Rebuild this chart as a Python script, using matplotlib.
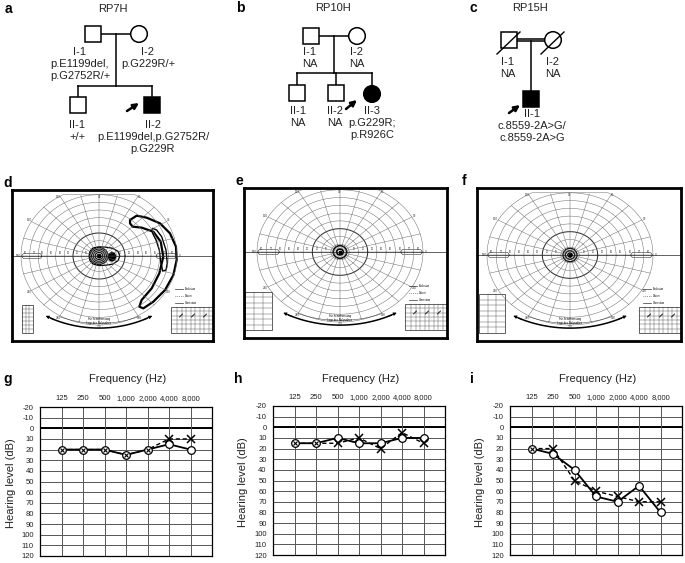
import numpy as np
import matplotlib
matplotlib.use("Agg")
import matplotlib.pyplot as plt
from matplotlib.patches import Rectangle, Circle, Ellipse, FancyBboxPatch, Polygon

plt.rcParams['font.family'] = ['Liberation Sans', 'DejaVu Sans']
plt.rcParams['axes.unicode_minus'] = False

W, H = 685, 563
fig = plt.figure(figsize=(W / 100, H / 100), dpi=100)
fig.patch.set_facecolor('white')

# ---------------- data ----------------
# pedigree RP7H
a_ids = ["I-1", "I-2", "II-1", "II-2"]
a_sex = ["m", "f", "m", "m"]
a_affected = [False, False, False, True]
a_geno = [["p.E1199del,", "p.G2752R/+"], ["p.G229R/+"], ["+/+"],
          ["p.E1199del,p.G2752R/", "p.G229R"]]
# pedigree RP10H
b_ids = ["I-1", "I-2", "II-1", "II-2", "II-3"]
b_sex = ["m", "f", "m", "m", "f"]
b_affected = [False, False, False, False, True]
b_geno = [["NA"], ["NA"], ["NA"], ["NA"], ["p.G229R;", "p.R926C"]]
# pedigree RP15H
c_ids = ["I-1", "I-2", "II-1"]
c_sex = ["m", "f", "m"]
c_affected = [False, False, True]
c_deceased = [True, True, False]
c_geno = [["NA"], ["NA"], ["c.8559-2A>G/", "c.8559-2A>G"]]

# goldmann isopters (degrees)
d_rings = [2.2, 4.4, 6.6, 8.6, 10.5]
d_blob = (15.0, -1.0, 4.0, 5.4)
d_outer_x = [-11.5, -10.5, -7, 0, 8, 16, 22, 24, 22, 16, 8, 0, -7, -10.5]
d_outer_y = [0, 6, 10.5, 12, 11.5, 10, 6, 0, -6, -10.5, -12, -12.5, -10.5, -6]
d_cres_x = [35.8, 43.5, 55, 70.4, 81.9, 88.8, 89.6, 85.8, 76.2, 62.7, 51.2, 46.5,
            49.2, 60.8, 69.6, 74.2, 71.2, 62.7, 49.2, 38.8, 35.8]
d_cres_y = [47, 52.6, 50, 42.6, 29.6, 12.2, -5.2, -24.8, -44.3, -59.6, -68.3, -66.1,
            -57.4, -42.2, -22.6, -0.9, 18.7, 31.7, 37, 38.3, 42.6]
d_inner_x = [61.9, 66.5, 72.3, 77.3, 78.8, 77.3, 73.5, 71.2, 69.6, 65.8, 61.9, 60.8]
d_inner_y = [36.1, 33.9, 25.2, 7.8, -9.6, -18.3, -19.6, -7.4, 7.8, 20.9, 29.6, 33.9]
e_rings = [(3.6, 3.8), (7.3, 8.1)]
f_rings = [(2.4, 2.6), (5.0, 5.4), (7.6, 8.6)]

# audiograms
freq_labels = ["125", "250", "500", "1,000", "2,000", "4,000", "8,000"]
g_right = [20, 20, 20, 25, 20, 15, 20]
g_left = [20, 20, 20, 25, 20, 10, 10]
h_right = [15, 15, 10, 15, 15, 10, 10]
h_left = [15, 15, 15, 10, 20, 5, 15]
i_right = [20, 25, 40, 65, 70, 55, 80]
i_left = [20, 20, 50, 60, 65, 70, 70]


def px_axes(x0, y0, x1, y1):
    return fig.add_axes([x0 / W, 1 - y1 / H, (x1 - x0) / W, (y1 - y0) / H])


def ftext(x, y, s, **kw):
    fig.text(x / W, 1 - y / H, s, **kw)


# ---------------- pedigrees ----------------
base = fig.add_axes([0, 0, 1, 1])
base.set_xlim(0, W)
base.set_ylim(H, 0)
base.axis('off')
TXT = '#222222'


def person(x, y, sex, affected, deceased=False):
    fc = 'black' if affected else 'white'
    if sex == 'm':
        base.add_patch(Rectangle((x - 8, y - 8), 16, 16, fc=fc, ec='black', lw=1.1, zorder=3))
    else:
        base.add_patch(Circle((x, y), 8.3, fc=fc, ec='black', lw=1.1, zorder=3))
    if deceased:
        base.plot([x - 12, x + 11], [y + 14, y - 8], color='black', lw=1.0, zorder=4)


def line(pts):
    xs, ys = zip(*pts)
    base.plot(xs, ys, color='black', lw=1.1, zorder=2)


def label(x, y, ident, geno):
    for k, s in enumerate([ident] + geno):
        base.text(x, y + k * 12, s, ha='center', va='center', fontsize=8, color=TXT)


def proband(tail, tip):
    base.annotate('', xy=tip, xytext=tail,
                  arrowprops=dict(arrowstyle='-|>', color='black', lw=1.8,
                                  mutation_scale=8, shrinkA=0, shrinkB=0))


# RP7H
a_pos = [(93, 34), (139, 34), (78, 105), (152, 105)]
a_txt = [(80, 52), (148, 52), (77, 125), (153, 125)]
line([(101, 34), (131, 34)])
line([(116, 34), (116, 86)])
line([(78, 86), (152, 86)])
line([(78, 86), (78, 97)])
line([(152, 86), (152, 97)])
for k in range(len(a_ids)):
    person(*a_pos[k], a_sex[k], a_affected[k])
    label(*a_txt[k], a_ids[k], a_geno[k])
proband((127, 111), (139, 103))

# RP10H
b_pos = [(311, 36), (357, 36), (297, 93), (336, 93), (372, 94)]
b_txt = [(310, 52), (357, 52), (298, 111), (335, 111), (372, 111)]
line([(319, 36), (349, 36)])
line([(334, 36), (334, 73)])
line([(297, 73), (372, 73)])
line([(297, 73), (297, 85)])
line([(336, 73), (336, 85)])
line([(372, 73), (372, 86)])
for k in range(len(b_ids)):
    person(*b_pos[k], b_sex[k], b_affected[k])
    label(*b_txt[k], b_ids[k], b_geno[k])
proband((346, 109), (357, 100))

# RP15H
c_pos = [(509, 40), (553, 40), (531, 99)]
c_txt = [(508, 62), (553, 62), (532, 114)]
line([(517, 38.6), (545, 38.6)])
line([(517, 41.4), (545, 41.4)])
line([(531, 41.4), (531, 91)])
for k in range(len(c_ids)):
    person(*c_pos[k], c_sex[k], c_affected[k], c_deceased[k])
    label(*c_txt[k], c_ids[k], c_geno[k])
proband((509, 113), (520, 105))

ftext(113, 9, "RP7H", ha='center', va='center', fontsize=8, color=TXT)
ftext(333, 8, "RP10H", ha='center', va='center', fontsize=8, color=TXT)
ftext(530, 8, "RP15H", ha='center', va='center', fontsize=8, color=TXT)

for s, x, y in [("a", 8, 9), ("b", 240, 8), ("c", 473, 8),
                ("d", 8, 183), ("e", 239, 181), ("f", 464, 181),
                ("g", 8, 379), ("h", 238, 379), ("i", 472, 379)]:
    ftext(x, y, s, ha='center', va='center', fontsize=10, fontweight='bold')


# ---------------- goldmann charts ----------------
GRID = '#6a6a6a'


def perimetry(box, center, rx, ry, lt_box):
    x0, y0, x1, y1 = box
    cx, cy = center
    ax = px_axes(x0, y0, x1, y1)
    ax.set_xlim(x0 - cx, x1 - cx)
    ax.set_ylim(cy - y1, cy - y0)
    ax.set_xticks([])
    ax.set_yticks([])
    for sp in ax.spines.values():
        sp.set_linewidth(2.0)
    sx, sy = rx / 90.0, ry / 90.0
    top = 80
    t = np.linspace(0, 2 * np.pi, 721)
    for r in range(10, 100, 10):
        xs = r * np.cos(t)
        ys = np.minimum(r * np.sin(t), top)
        lw = 0.75 if r == 30 else 0.35
        ax.plot(xs * sx, ys * sy, color=GRID if r != 30 else '#333', lw=lw)
    for ang in range(0, 360, 15):
        a = np.radians(ang)
        rr = np.linspace(5, 90, 50)
        xs = rr * np.cos(a)
        ys = rr * np.sin(a)
        keep = ys <= top + 0.01
        ax.plot(xs[keep] * sx, ys[keep] * sy, color=GRID, lw=0.35)
        if ang % 30 == 0:
            ax.text(93 * np.cos(a) * sx, min(93 * np.sin(a), top - 3) * sy, str(ang),
                    fontsize=2.2, ha='center', va='center', color='#333')
    ax.axhline(0, color='#222', lw=0.5)
    for r in range(10, 90, 10):
        for sgn in (-1, 1):
            ax.text(sgn * (r + 5) * sx, 1.5 * sy, str(r), fontsize=1.8,
                    ha='center', va='bottom', color='#333')
    for xl in (-89, 66):
        ax.add_patch(FancyBboxPatch((xl * sx, -3.5 * sy), 23 * sx, 7 * sy,
                                    boxstyle="round,pad=0,rounding_size=3",
                                    fc='none', ec='#333', lw=0.4))
    # bottom arc with arrows
    R, c0 = 127.0, 33.0
    th = np.linspace(np.radians(-90 - 26), np.radians(-90 + 26), 100)
    ax.plot(R * np.cos(th) * sx, (c0 + R * np.sin(th)) * sy, color='black', lw=1.1)
    th2 = np.linspace(np.radians(-90 - 22), np.radians(-90 + 22), 100)
    ax.plot((R - 6) * np.cos(th2) * sx, (c0 + (R - 6) * np.sin(th2)) * sy, color='#333', lw=0.35)
    for sgn in (-1, 1):
        e1 = np.radians(-90 + sgn * 24)
        e2 = np.radians(-90 + sgn * 29)
        ax.annotate('', xy=(R * np.cos(e2) * sx, (c0 + R * np.sin(e2)) * sy),
                    xytext=(R * np.cos(e1) * sx, (c0 + R * np.sin(e1)) * sy),
                    arrowprops=dict(arrowstyle='-|>', color='black', lw=0.7,
                                    mutation_scale=4.5, shrinkA=0, shrinkB=0))
    ax.text(0, -85 * sy, "Für Schielmessung\nLage des Nullpunktes", fontsize=1.9,
            ha='center', va='center', linespacing=1.0)
    # legend lines and table at bottom right
    for k in range(3):
        yy = cy - (y1 - 52 + k * 7)
        ax.plot([x1 - cx - 38, x1 - cx - 30], [yy, yy], color='#333', lw=0.5,
                ls=['-', ':', '-'][k])
        ax.text(x1 - cx - 28, yy, ["Exclusion", "Datum", "Correction"][k],
                fontsize=1.9, va='center')
    tx0, tx1 = x1 - cx - 42, x1 - cx
    ty0, ty1 = cy - (y1 - 8), cy - (y1 - 34)
    ax.add_patch(Rectangle((tx0, ty0), tx1 - tx0, ty1 - ty0, fc='white', ec='#222', lw=0.5))
    for xx in np.linspace(tx0 + 6, tx1, 9)[:-1]:
        ax.plot([xx, xx], [ty0, ty1], color='#444', lw=0.3)
    for yy in np.linspace(ty0, ty1, 7)[1:-1]:
        ax.plot([tx0, tx1], [yy, yy], color='#444', lw=0.3)
    for xx in (tx0 + 10, tx0 + 22, tx0 + 34):
        ax.plot([xx - 1.5, xx + 1.5], [ty1 - 10, ty1 - 7], color='black', lw=0.6)
    # small table bottom left
    lx, lw_, lh = lt_box
    bx0 = x0 - cx + lx
    by0 = cy - (y1 - 8)
    ax.add_patch(Rectangle((bx0, by0), lw_, lh, fc='white', ec='#222', lw=0.5))
    for yy in np.linspace(by0, by0 + lh, 8)[1:-1]:
        ax.plot([bx0, bx0 + lw_], [yy, yy], color='#444', lw=0.3)
    for xx in np.linspace(bx0, bx0 + lw_, 4)[1:-1]:
        ax.plot([xx, xx], [by0, by0 + lh], color='#444', lw=0.3)
    return ax, sx, sy


def rings(ax, sx, sy, rr, lw):
    for rxd, ryd in rr:
        ax.add_patch(Ellipse((0, 0), 2 * rxd * sx, 2 * ryd * sy, fc='none', ec='black', lw=lw))
    ax.plot([0], [0], 'o', ms=1.8, color='black')


# d
ax, sx, sy = perimetry((12, 190, 213, 341), (99, 256), 78, 69, (10, 11, 28))
rings(ax, sx, sy, [(r, r * 1.05) for r in d_rings], 0.8)
bx, by, bw, bh = d_blob
ax.add_patch(Ellipse((bx * sx, by * sy), 2 * bw * sx, 2 * bh * sy, fc='black', ec='black'))
ax.add_patch(Polygon(np.c_[np.array(d_outer_x) * sx, np.array(d_outer_y) * sy],
                     closed=True, fc='none', ec='black', lw=0.9, joinstyle='round'))
ax.add_patch(Polygon(np.c_[np.array(d_cres_x) * sx, np.array(d_cres_y) * sy],
                     closed=True, fc='none', ec='black', lw=1.6, joinstyle='round'))
ax.add_patch(Polygon(np.c_[np.array(d_inner_x) * sx, np.array(d_inner_y) * sy],
                     closed=True, fc='none', ec='black', lw=1.0, joinstyle='round'))

# e
ax, sx, sy = perimetry((244, 188, 447, 338), (340, 252), 83, 70, (1, 27, 38))
rings(ax, sx, sy, e_rings, 1.2)

# f
ax, sx, sy = perimetry((477, 188, 681, 341), (570, 255), 83, 70, (2, 26, 39))
rings(ax, sx, sy, f_rings, 1.0)


# ---------------- audiograms ----------------
def audiogram(box, right, left, title_x, ylab_x):
    ax = px_axes(*box)
    pos = np.arange(len(freq_labels))
    ax.set_xlim(-1, len(freq_labels))
    ax.set_ylim(120, -20)
    ax.set_xticks(pos)
    ax.set_xticklabels(freq_labels)
    ax.xaxis.tick_top()
    ax.set_yticks(range(-20, 121, 10))
    ax.tick_params(length=0, labelsize=5.5, colors='#222')
    ax.tick_params(axis='y', pad=4.5)
    ax.tick_params(axis='x', pad=3.5)
    for sp in ax.spines.values():
        sp.set_linewidth(0.9)
    for v in range(-10, 120, 10):
        ax.axhline(v, color='#555', lw=0.7, zorder=1)
    ax.axhline(0, color='black', lw=1.4, zorder=1)
    for p in pos:
        ax.axvline(p, color='#555', lw=0.7, zorder=1)
    right = np.array(right)
    left = np.array(left)
    same = right == left
    ax.plot(pos, left, color='black', lw=1.0, ls=(0, (3, 2)), zorder=2)
    ax.plot(pos[~same], left[~same], 'x', ms=6, mew=1.1, color='black', zorder=4)
    ax.plot(pos, right, '-', color='black', lw=1.3, marker='o', ms=5.5,
            mfc='white', mec='black', mew=0.9, zorder=3)
    ax.plot(pos[same], right[same], 'x', ms=3.2, mew=0.8, color='black', zorder=5)
    ftext(title_x, 379, "Frequency (Hz)", ha='center', va='center', fontsize=8, color=TXT)
    ftext(ylab_x, (box[1] + box[3]) / 2 + 2, "Hearing level (dB)", rotation=90,
          ha='center', va='center', fontsize=8, color=TXT)
    return ax


audiogram((40, 407, 212, 556), g_right, g_left, 128, 11)
audiogram((273, 406, 445, 555), h_right, h_left, 361, 243)
audiogram((510, 406, 682, 555), i_right, i_left, 598, 480)

fig.savefig("out.png", dpi=100)
